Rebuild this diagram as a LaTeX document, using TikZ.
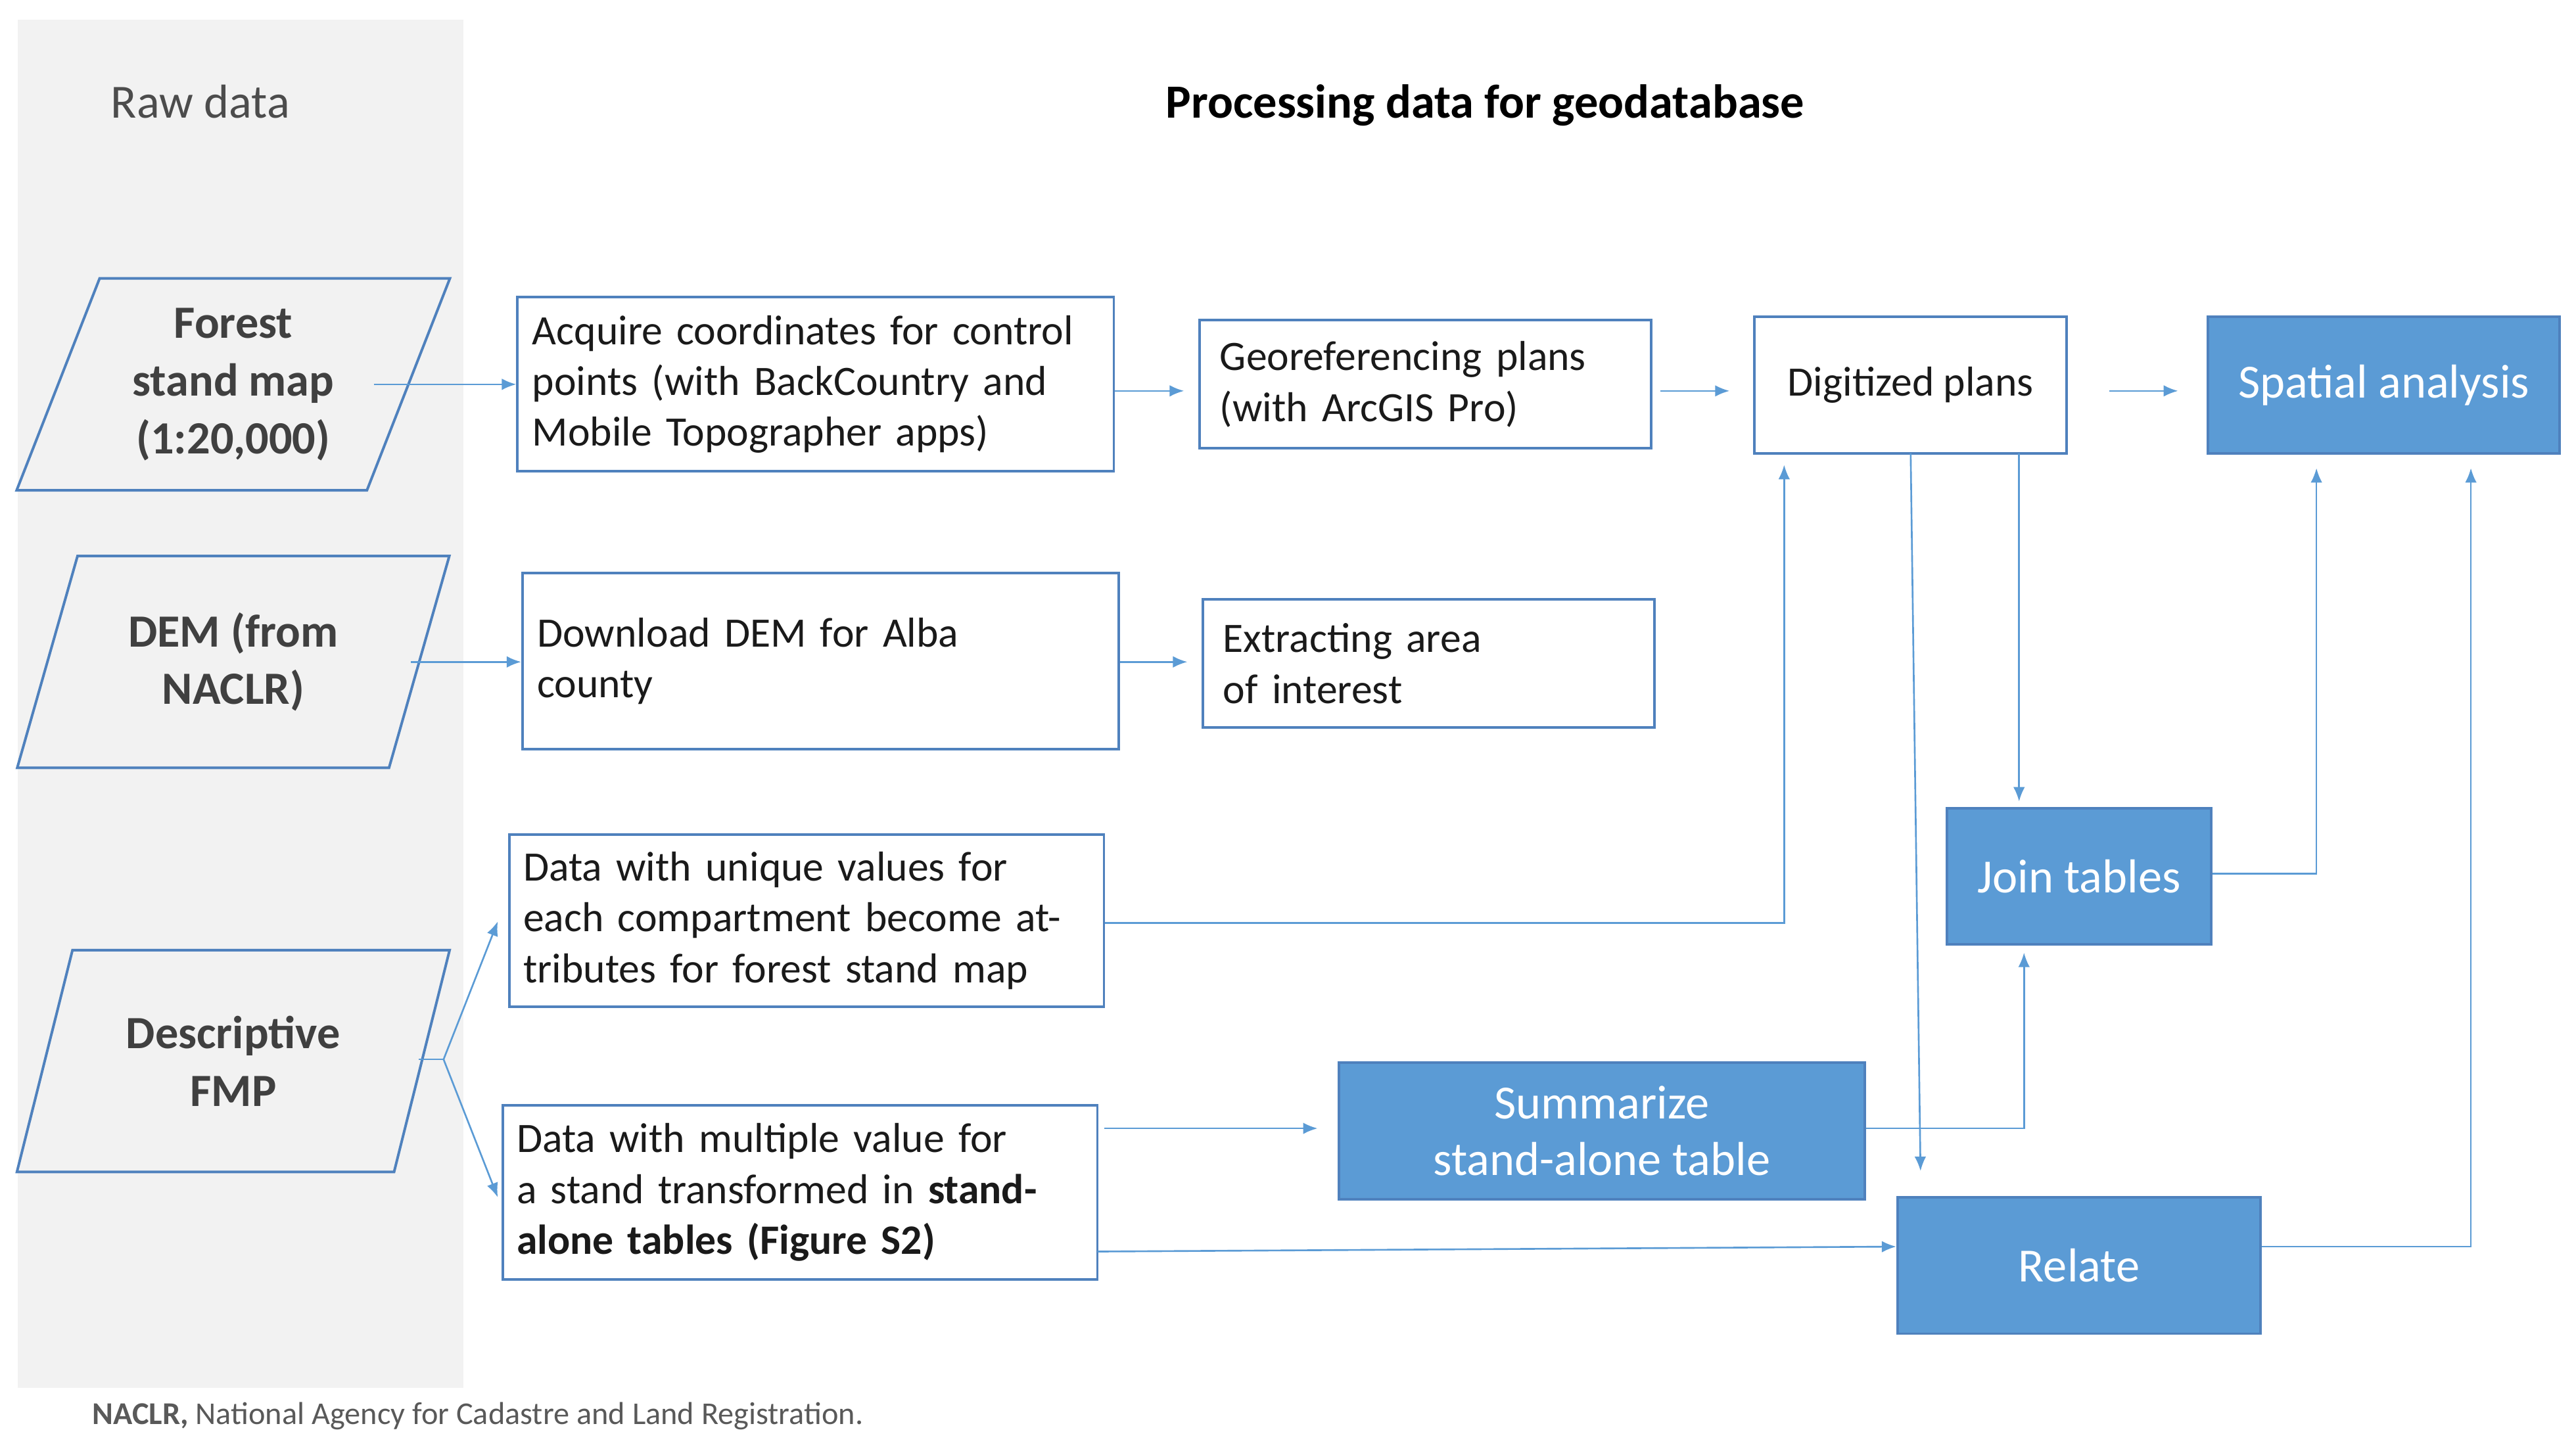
\documentclass[tikz,border=0pt]{standalone}
\usepackage{fontspec}
\setmainfont{Carlito}
\usetikzlibrary{shapes.geometric,arrows.meta}
\definecolor{bl}{HTML}{5B9BD5}
\definecolor{ln}{HTML}{4F81BD}
\definecolor{pan}{HTML}{F2F2F2}
\definecolor{tx}{HTML}{1A1A1A}
\begin{document}
\begin{tikzpicture}[x=0.02cm,y=-0.02cm,
 box/.style={draw=ln,line width=0.9pt,fill=white,inner sep=0pt,font=\fontsize{14.5}{17.6}\selectfont,text=tx},
 fbox/.style={draw=ln,line width=0.9pt,fill=bl,text=white,inner sep=0pt,font=\fontsize{16.5}{19.5}\selectfont},
 para/.style={draw=ln,line width=0.9pt,fill=pan,trapezium,trapezium left angle=67.7,trapezium right angle=112.3,trapezium stretches=true,minimum width=5.28cm,minimum height=2.58cm,inner sep=0pt,align=center,font=\bfseries\fontsize{16}{20}\selectfont,text=black!75},
 ar/.style={draw=bl,line width=0.6pt,-{Latex[length=5pt,width=4pt]}},
 ln/.style={draw=bl,line width=0.6pt}]
\useasboundingbox (0,0) rectangle (1568,882);
\fill[pan] (11,12) rectangle (282,845);
\node[text=black!70,font=\fontsize{16.5}{20}\selectfont] (raw) at (122,62) {Raw data};
\node[font=\bfseries\fontsize{16.5}{20}\selectfont] (title) at (904,64) {Processing data for geodatabase};
\node[para] (fsm) at (142,234) {Forest\\stand map\\(1:20,000)};
\node[para] (dem) at (142,403) {DEM (from\\NACLR)};
\node[para,minimum height=2.7cm] (fmp) at (142,646) {Descriptive\\FMP};
\node[box,minimum width=7.26cm,minimum height=2.12cm,text width=6.9cm,align=left] (a1) at (496.5,234) {Acquire coordinates for control points (with BackCountry and Mobile Topographer apps)};
\node[box,minimum width=5.5cm,minimum height=1.56cm,text width=5.0cm,align=left] (a2) at (867.5,234) {Georeferencing plans\\(with ArcGIS Pro)};
\node[box,minimum width=3.8cm,minimum height=1.66cm,align=center] (a3) at (1163,234.5) {Digitized plans};
\node[fbox,minimum width=4.28cm,minimum height=1.66cm] (sa) at (1451,234.5) {Spatial analysis};
\node[box,minimum width=7.26cm,minimum height=2.14cm,text width=6.9cm,align=left] (b1) at (499.5,402.5) {Download DEM for Alba\\county};
\node[box,minimum width=5.5cm,minimum height=1.56cm,text width=5.0cm,align=left] (b2) at (869.5,404) {Extracting area\\of interest};
\node[box,minimum width=7.24cm,minimum height=2.1cm,text width=6.9cm,align=left] (c1) at (491,560.5) {Data with unique values for each compartment become attributes for forest stand map};
\node[box,minimum width=7.24cm,minimum height=2.12cm,text width=6.9cm,align=left] (c2) at (487,726) {Data with multiple value for a stand transformed in \textbf{stand-alone tables (Figure S2)}};
\node[fbox,minimum width=6.4cm,minimum height=1.66cm,align=center] (sum) at (975,688.5) {Summarize\\stand-alone table};
\node[fbox,minimum width=3.22cm,minimum height=1.66cm] (join) at (1265.5,533.5) {Join tables};
\node[fbox,minimum width=4.42cm,minimum height=1.66cm] (rel) at (1265.5,770.5) {Relate};
\node[text=black!65,anchor=west,font=\fontsize{11}{13}\selectfont] (foot) at (50,862) {\textbf{NACLR,} National Agency for Cadastre and Land Registration.};
% connectors
\path[ar] (fsm.east |- 0,234) ++(-22,0) coordinate (f1) -- (a1.west |- f1);
\path[ar] (a1.east |- 0,238) -- ++(42,0);
\path[ar] (a2.east |- 0,238) ++(5,0) -- ++(42,0);
\path[ar] (a3.east |- 0,238) ++(25,0) -- ++(42,0);
\path[ar] (250,403) coordinate (d1) -- (b1.west |- d1);
\path[ar] (b1.east |- 0,403) -- ++(41,0);
\coordinate (fm) at (270,645);
\path[ln] (255,645) -- (fm);
\path[ar] (fm) -- (303,561);
\path[ar] (fm) -- (303,729);
\coordinate (k1) at (1086,562);
\path[ar] (c1.east |- k1) -- (k1) -- (1086,283);
\path[ar] (1163,276) -- (1169,713);
\path[ar] (1229,276) -- (1229,488);
\coordinate (k2) at (1410,532);
\path[ar] (join.east |- k2) -- (k2) -- (1410,285);
\coordinate (k3) at (1504,759);
\path[ar] (rel.east |- k3) -- (k3) -- (1504,285);
\path[ar] (672,687) -- (802,687);
\coordinate (k4) at (1232,687);
\path[ar] (sum.east |- k4) -- (k4) -- (1232,580);
\path[ar] (668,762) -- (rel.west |- 0,759);
\end{tikzpicture}
\end{document}
